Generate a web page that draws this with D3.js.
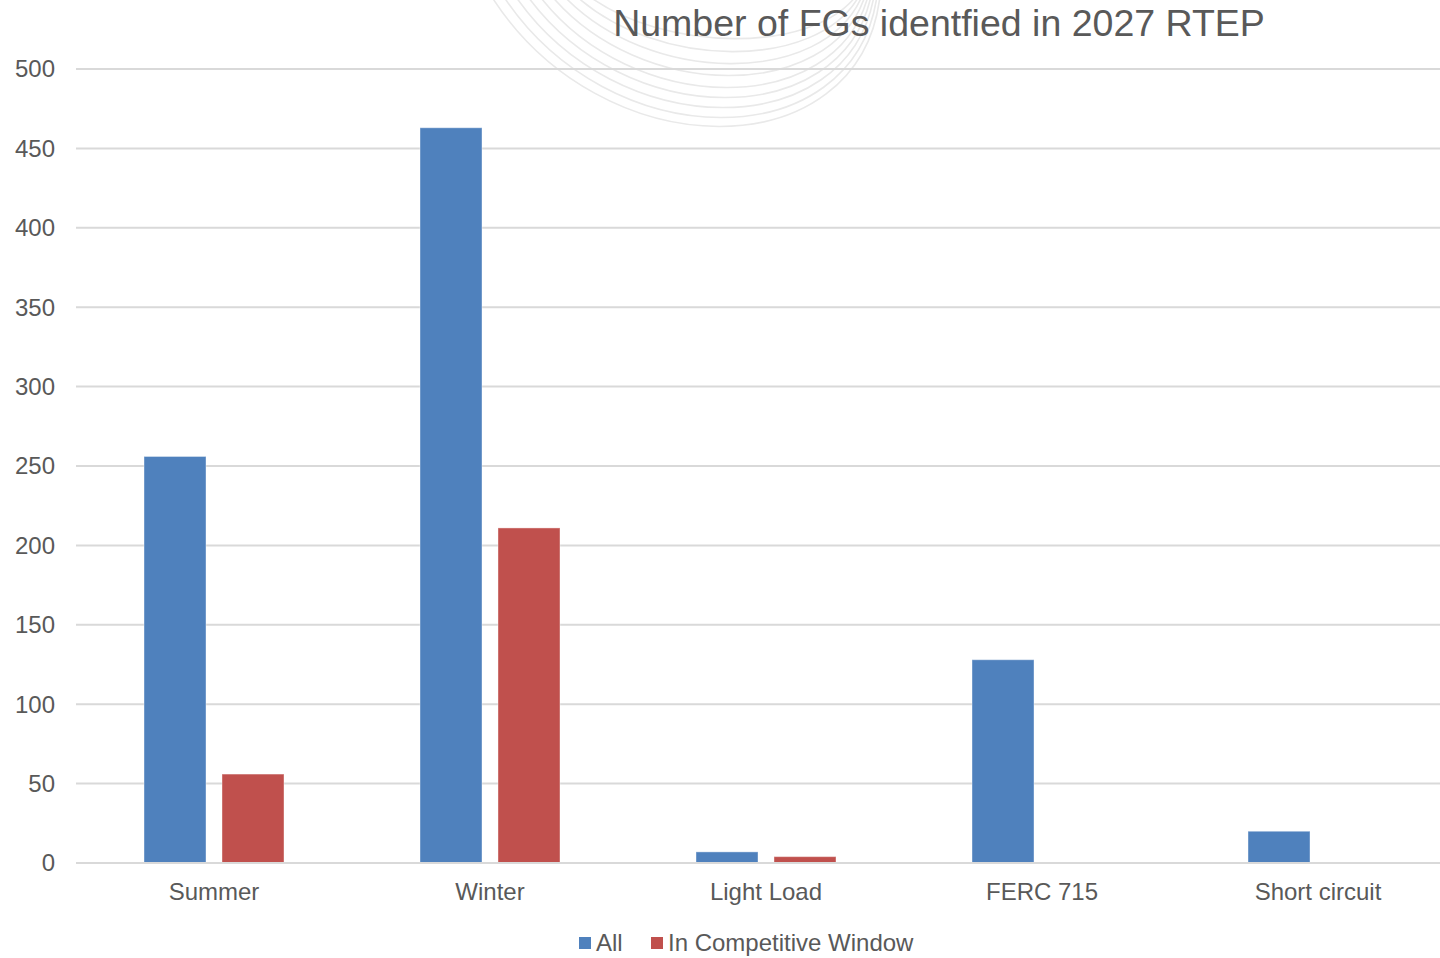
<!DOCTYPE html>
<html>
<head>
<meta charset="utf-8">
<script src="https://cdn.jsdelivr.net/npm/d3@7"></script>
<style>
  html, body { margin: 0; padding: 0; background: #fff; }
  svg { display: block; font-family: "Liberation Sans", Arial, sans-serif; }
</style>
</head>
<body>
<svg id="chart"></svg>
<script>
// Chart data
const categories = ["Summer", "Winter", "Light Load", "FERC 715", "Short circuit"];
const seriesNames = ["All", "In Competitive Window"];
const allValues = [256, 463, 7, 128, 20];
const windowValues = [56, 211, 4, 0, 0];
const yTicks = [0, 50, 100, 150, 200, 250, 300, 350, 400, 450, 500];
const colors = ["#4f81bd", "#c0504d"];

const W = 1440, H = 958;
const margin = {top: 69, right: -16, bottom: 95, left: 76};

const svg = d3.select("#chart")
  .attr("width", W)
  .attr("height", H);

// faint background swoosh (decoration)
const swoosh = svg.append("g").attr("fill", "none").attr("stroke", "#e9e9e9").attr("stroke-width", 1.6);
const swooshDepth = [128, 119, 109, 99, 89, 77, 65, 53, 40];
swooshDepth.forEach((b, i) => {
  const p = d3.path();
  p.moveTo(490 + i * 12, -6);
  p.bezierCurveTo(600 + i * 8, b * 1.33, 860 - i * 6, b * 1.33, 880 - i * 3, -4);
  swoosh.append("path").attr("d", p.toString());
});

const x0 = d3.scaleBand()
  .domain(categories)
  .range([margin.left, W - margin.right])
  .paddingInner(0)
  .paddingOuter(0);

const x1 = d3.scaleBand()
  .domain(seriesNames)
  .range([x0.bandwidth() / 2 - 70, x0.bandwidth() / 2 + 70])
  .paddingInner(0.205)
  .paddingOuter(0);

const y = d3.scaleLinear()
  .domain([0, 500])
  .range([H - margin.bottom, margin.top]);

// gridlines
svg.append("g")
  .selectAll("line")
  .data(yTicks)
  .join("line")
  .attr("x1", margin.left)
  .attr("x2", W)
  .attr("y1", d => y(d))
  .attr("y2", d => y(d))
  .attr("stroke", "#d9d9d9")
  .attr("stroke-width", 2);

// y tick labels
svg.append("g")
  .selectAll("text")
  .data(yTicks)
  .join("text")
  .attr("x", 55)
  .attr("y", d => y(d))
  .attr("dy", "0.35em")
  .attr("text-anchor", "end")
  .attr("font-size", "24px")
  .attr("fill", "#595959")
  .text(d => d);

// bars
const rows = categories.map((c, i) => ({cat: c, values: [allValues[i], windowValues[i]]}));
const groups = svg.append("g")
  .selectAll("g")
  .data(rows)
  .join("g")
  .attr("transform", d => `translate(${x0(d.cat)},0)`);

groups.selectAll("rect")
  .data(d => d.values.map((v, i) => ({name: seriesNames[i], value: v, color: colors[i]})))
  .join("rect")
  .attr("x", d => x1(d.name))
  .attr("width", x1.bandwidth())
  .attr("y", d => y(d.value))
  .attr("height", d => y(0) - y(d.value))
  .attr("fill", d => d.color)
  .attr("stroke", "#fff")
  .attr("stroke-opacity", 0.4)
  .attr("stroke-width", d => d.value > 0 ? 1 : 0);

// x axis line over bars
svg.append("line")
  .attr("x1", margin.left)
  .attr("x2", W)
  .attr("y1", y(0))
  .attr("y2", y(0))
  .attr("stroke", "#d9d9d9")
  .attr("stroke-width", 2);

// category labels
svg.append("g")
  .selectAll("text")
  .data(categories)
  .join("text")
  .attr("x", d => x0(d) + x0.bandwidth() / 2)
  .attr("y", 900)
  .attr("text-anchor", "middle")
  .attr("font-size", "24px")
  .attr("fill", "#595959")
  .text(d => d);

// title
svg.append("text")
  .attr("x", 939)
  .attr("y", 36)
  .attr("text-anchor", "middle")
  .attr("font-size", "37.5px")
  .attr("fill", "#595959")
  .text("Number of FGs identfied in 2027 RTEP");

// legend
const legend = svg.append("g");
const legendX = [579, 651];
seriesNames.forEach((name, i) => {
  legend.append("rect")
    .attr("x", legendX[i])
    .attr("y", 937)
    .attr("width", 12)
    .attr("height", 12)
    .attr("fill", colors[i]);
  legend.append("text")
    .attr("x", legendX[i] + 17)
    .attr("y", 951)
    .attr("font-size", "24px")
    .attr("fill", "#595959")
    .text(name);
});
</script>
</body>
</html>
